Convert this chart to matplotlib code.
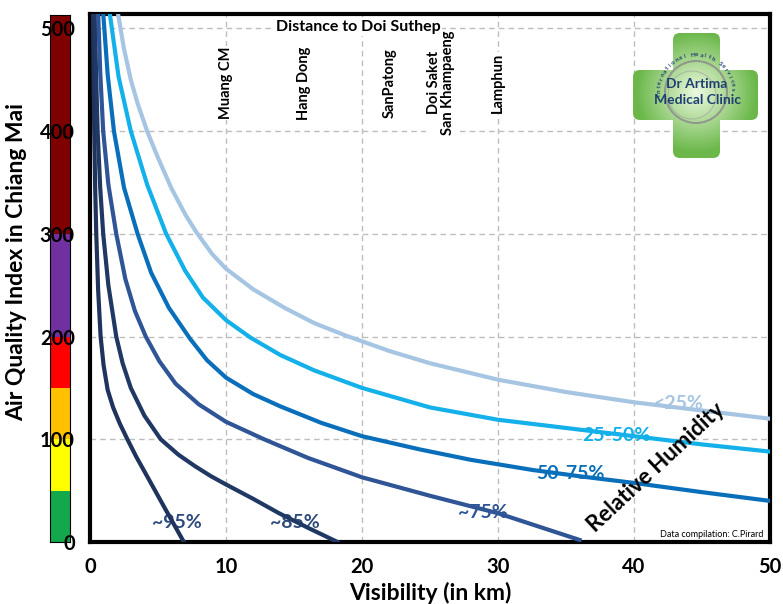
import matplotlib.pyplot as plt
import numpy as np
from matplotlib.patches import FancyBboxPatch, Circle

plt.rcParams['font.family'] = ['Lato', 'DejaVu Sans']

# AQI colour scale (left bar)
aqi_bounds = [0, 50, 100, 150, 200, 300, 514]
aqi_colors = ['#12a84b', '#ffff00', '#ffc000', '#ff0000', '#7030a0', '#7f0000']

# visibility (km) vs AQI curves
vis_95 = [0.22, 0.26, 0.31, 0.38, 0.46, 0.6, 0.78, 1.0, 1.3, 1.7, 2.2, 2.75, 3.4, 4.2, 5.5, 6.9]
aqi_95 = [515, 455, 400, 345, 300, 245, 200, 172, 148, 131, 115, 100, 83, 64, 33, 0]
vis_85 = [0.34, 0.45, 0.56, 0.75, 0.97, 1.35, 1.93, 2.4, 3.0, 4.0, 5.2, 6.5, 7.7, 8.9, 10, 12, 13.9, 16, 18.2]
aqi_85 = [515, 455, 400, 345, 300, 250, 200, 174, 150, 123, 100, 85, 74, 64, 56, 42, 28, 14, 0]
vis_75 = [0.6, 0.75, 0.97, 1.35, 1.93, 2.6, 3.3, 4.1, 5.1, 6.3, 8, 10, 12.8, 16, 20, 25, 30, 33, 36]
aqi_75 = [515, 458, 400, 348, 300, 256, 225, 200, 176, 154, 134, 117, 100, 82, 63, 45, 28, 15, 2]
vis_50 = [0.97, 1.3, 1.76, 2.5, 3.5, 4.5, 5.8, 7.35, 8.6, 10, 12, 14, 17, 20, 24.3, 28, 32.6, 36, 40, 45, 50]
aqi_50 = [515, 455, 400, 345, 300, 262, 228, 198, 177, 160, 144, 132, 116, 103, 90, 80, 70, 64, 57.5, 48.5, 40]
vis_25 = [1.45, 2.1, 3, 4.2, 5.6, 7, 8.3, 10, 11.8, 14, 16.5, 20, 25, 30, 35, 40, 45, 50]
aqi_25 = [515, 453, 400, 348, 300, 264, 238, 216, 199, 182, 167, 150, 131, 119, 111, 103, 95, 88]
vis_lt25 = [2.05, 2.5, 3, 3.5, 4.2, 5, 6, 7, 7.8, 9, 10, 12, 14.3, 16.5, 18.8, 22, 25, 30, 35, 40, 45, 50]
aqi_lt25 = [515, 480, 450, 427, 400, 374, 344, 319, 302, 280, 266, 246, 228, 213, 201, 186, 174, 158, 146, 136, 128, 120]

curves = [
    (vis_95, aqi_95, '#1f335c'),
    (vis_85, aqi_85, '#203864'),
    (vis_75, aqi_75, '#2f5597'),
    (vis_50, aqi_50, '#0a6fba'),
    (vis_25, aqi_25, '#13b0ea'),
    (vis_lt25, aqi_lt25, '#a6c5e3'),
]

# humidity labels
hum_labels = ['~95%', '~85%', '~75%', '50-75%', '25-50%', '<25%']
hum_x = [6.4, 15.1, 28.9, 35.3, 38.7, 43.3]
hum_y = [19, 19, 29, 67, 104, 135]
hum_colors = ['#2e4a7d', '#2e4a7d', '#2f5597', '#0a6fba', '#13b0ea', '#a6c5e3']

# places at their distance to Doi Suthep
places = ['Muang CM', 'Hang Dong', 'SanPatong', 'Doi Saket\nSan Khampaeng', 'Lamphun']
place_km = [10, 15.7, 22, 25.8, 30]

fig = plt.figure(figsize=(7.83, 6.04), dpi=100)

# colour bar
cax = fig.add_axes([50/783, 1-542/604, 20/783, 527/604])
for lo, hi, c in zip(aqi_bounds[:-1], aqi_bounds[1:], aqi_colors):
    cax.bar(0.5, hi-lo, bottom=lo, width=1, color=c, edgecolor='none')
cax.set_xlim(0, 1)
cax.set_ylim(0, 514)
cax.set_xticks([])
cax.set_yticks([])
for s in cax.spines.values():
    s.set_linewidth(0.8)

ax = fig.add_axes([90/783, 1-542/604, 680/783, 528/604])
ax.set_zorder(2)
for x, y, c in curves:
    ax.plot(x, y, color=c, lw=3, zorder=3, solid_joinstyle='round')

ax.set_xlim(0, 50)
ax.set_ylim(0, 514)
ax.set_xticks(range(0, 51, 10))
ax.set_yticks(range(0, 501, 100))
ax.grid(True, ls=(0, (4, 3)), color='#bdbdbd', lw=1)
ax.set_axisbelow(True)
ax.tick_params(length=0, labelsize=14.5)
ax.tick_params(axis='x', pad=11)
ax.tick_params(axis='y', pad=11)
for lbl in ax.get_xticklabels() + ax.get_yticklabels():
    lbl.set_fontweight('bold')
for s in ax.spines.values():
    s.set_linewidth(3)

ax.set_xlabel('Visibility (in km)', fontsize=16.5, fontweight='bold')
ax.xaxis.set_label_coords(0.5, -0.075)
ax.set_ylabel('Air Quality Index in Chiang Mai', fontsize=16.5, fontweight='bold')
ax.yaxis.set_label_coords(-0.092, 0.53)

for t, x, y, c in zip(hum_labels, hum_x, hum_y, hum_colors):
    ax.text(x, y, t, color=c, fontsize=14, fontweight='bold', ha='center', va='center', zorder=2)

ax.text(41.6, 73, 'Relative Humidity', rotation=43, fontsize=16, fontweight='bold',
        ha='center', va='center', rotation_mode='anchor')
ax.text(0.99, 0.006, 'Data compilation: C.Pirard', transform=ax.transAxes,
        fontsize=6.5, ha='right', va='bottom')

for p, k in zip(places, place_km):
    ax.text(k, 447, p, rotation=90, fontsize=10.5, fontweight='bold', ha='center', va='center',
            multialignment='center', linespacing=1.0, zorder=3,
            bbox=dict(fc='white', ec='none', pad=0.5))
ax.text(19.7, 501, 'Distance to Doi Suthep', fontsize=11.5, fontweight='bold', ha='center', va='center',
        zorder=4, bbox=dict(fc='white', ec='none', pad=1))

# logo (pixel coordinates)
lax = fig.add_axes([630/783, 1-162/604, 132/783, 132/604])
lax.set_xlim(630, 762)
lax.set_ylim(162, 30)
lax.axis('off')
lax.set_zorder(5)
bars = [FancyBboxPatch((673, 33), 47, 125, boxstyle='round,pad=0,rounding_size=7'),
        FancyBboxPatch((633, 70), 125, 50, boxstyle='round,pad=0,rounding_size=7')]
gx, gy = np.meshgrid(np.arange(630, 762), np.arange(30, 162))
r = np.clip(np.hypot(gx - 696, gy - 92) / 60, 0, 1)[..., None]
inner = np.array([0.93, 0.98, 0.88])
outer = np.array([0.42, 0.72, 0.29])
img = inner * (1 - r) + outer * r
for b in bars:
    b.set_facecolor('none')
    b.set_edgecolor('none')
    lax.add_patch(b)
    im = lax.imshow(img, extent=(630, 762, 162, 30), aspect='auto', interpolation='bilinear')
    im.set_clip_path(b)
lax.set_xlim(630, 762)
lax.set_ylim(162, 30)
lax.add_patch(Circle((696, 92), 31, fill=False, ec='#8a8a8a', lw=1.5, alpha=0.8))
lax.add_patch(Circle((692, 95), 24, fill=False, ec='#a0a0a0', lw=0.8, alpha=0.6))
lax.text(697, 84, 'Dr Artima', fontsize=10, fontweight='bold', color='#1f3f73', ha='center', va='center')
lax.text(698, 100, 'Medical Clinic', fontsize=10, fontweight='bold', color='#1f3f73', ha='center', va='center')
arc_text = 'International Health Services'
for i, ch in enumerate(arc_text):
    th = np.deg2rad(185 - 180 * i / (len(arc_text) - 1))
    lax.text(696 + 37 * np.cos(th), 92 - 37 * np.sin(th), ch, fontsize=4.5, fontweight='bold',
             color='#1f3f73', rotation=np.rad2deg(th) - 90, ha='center', va='center')

fig.savefig('out.png', dpi=100)
